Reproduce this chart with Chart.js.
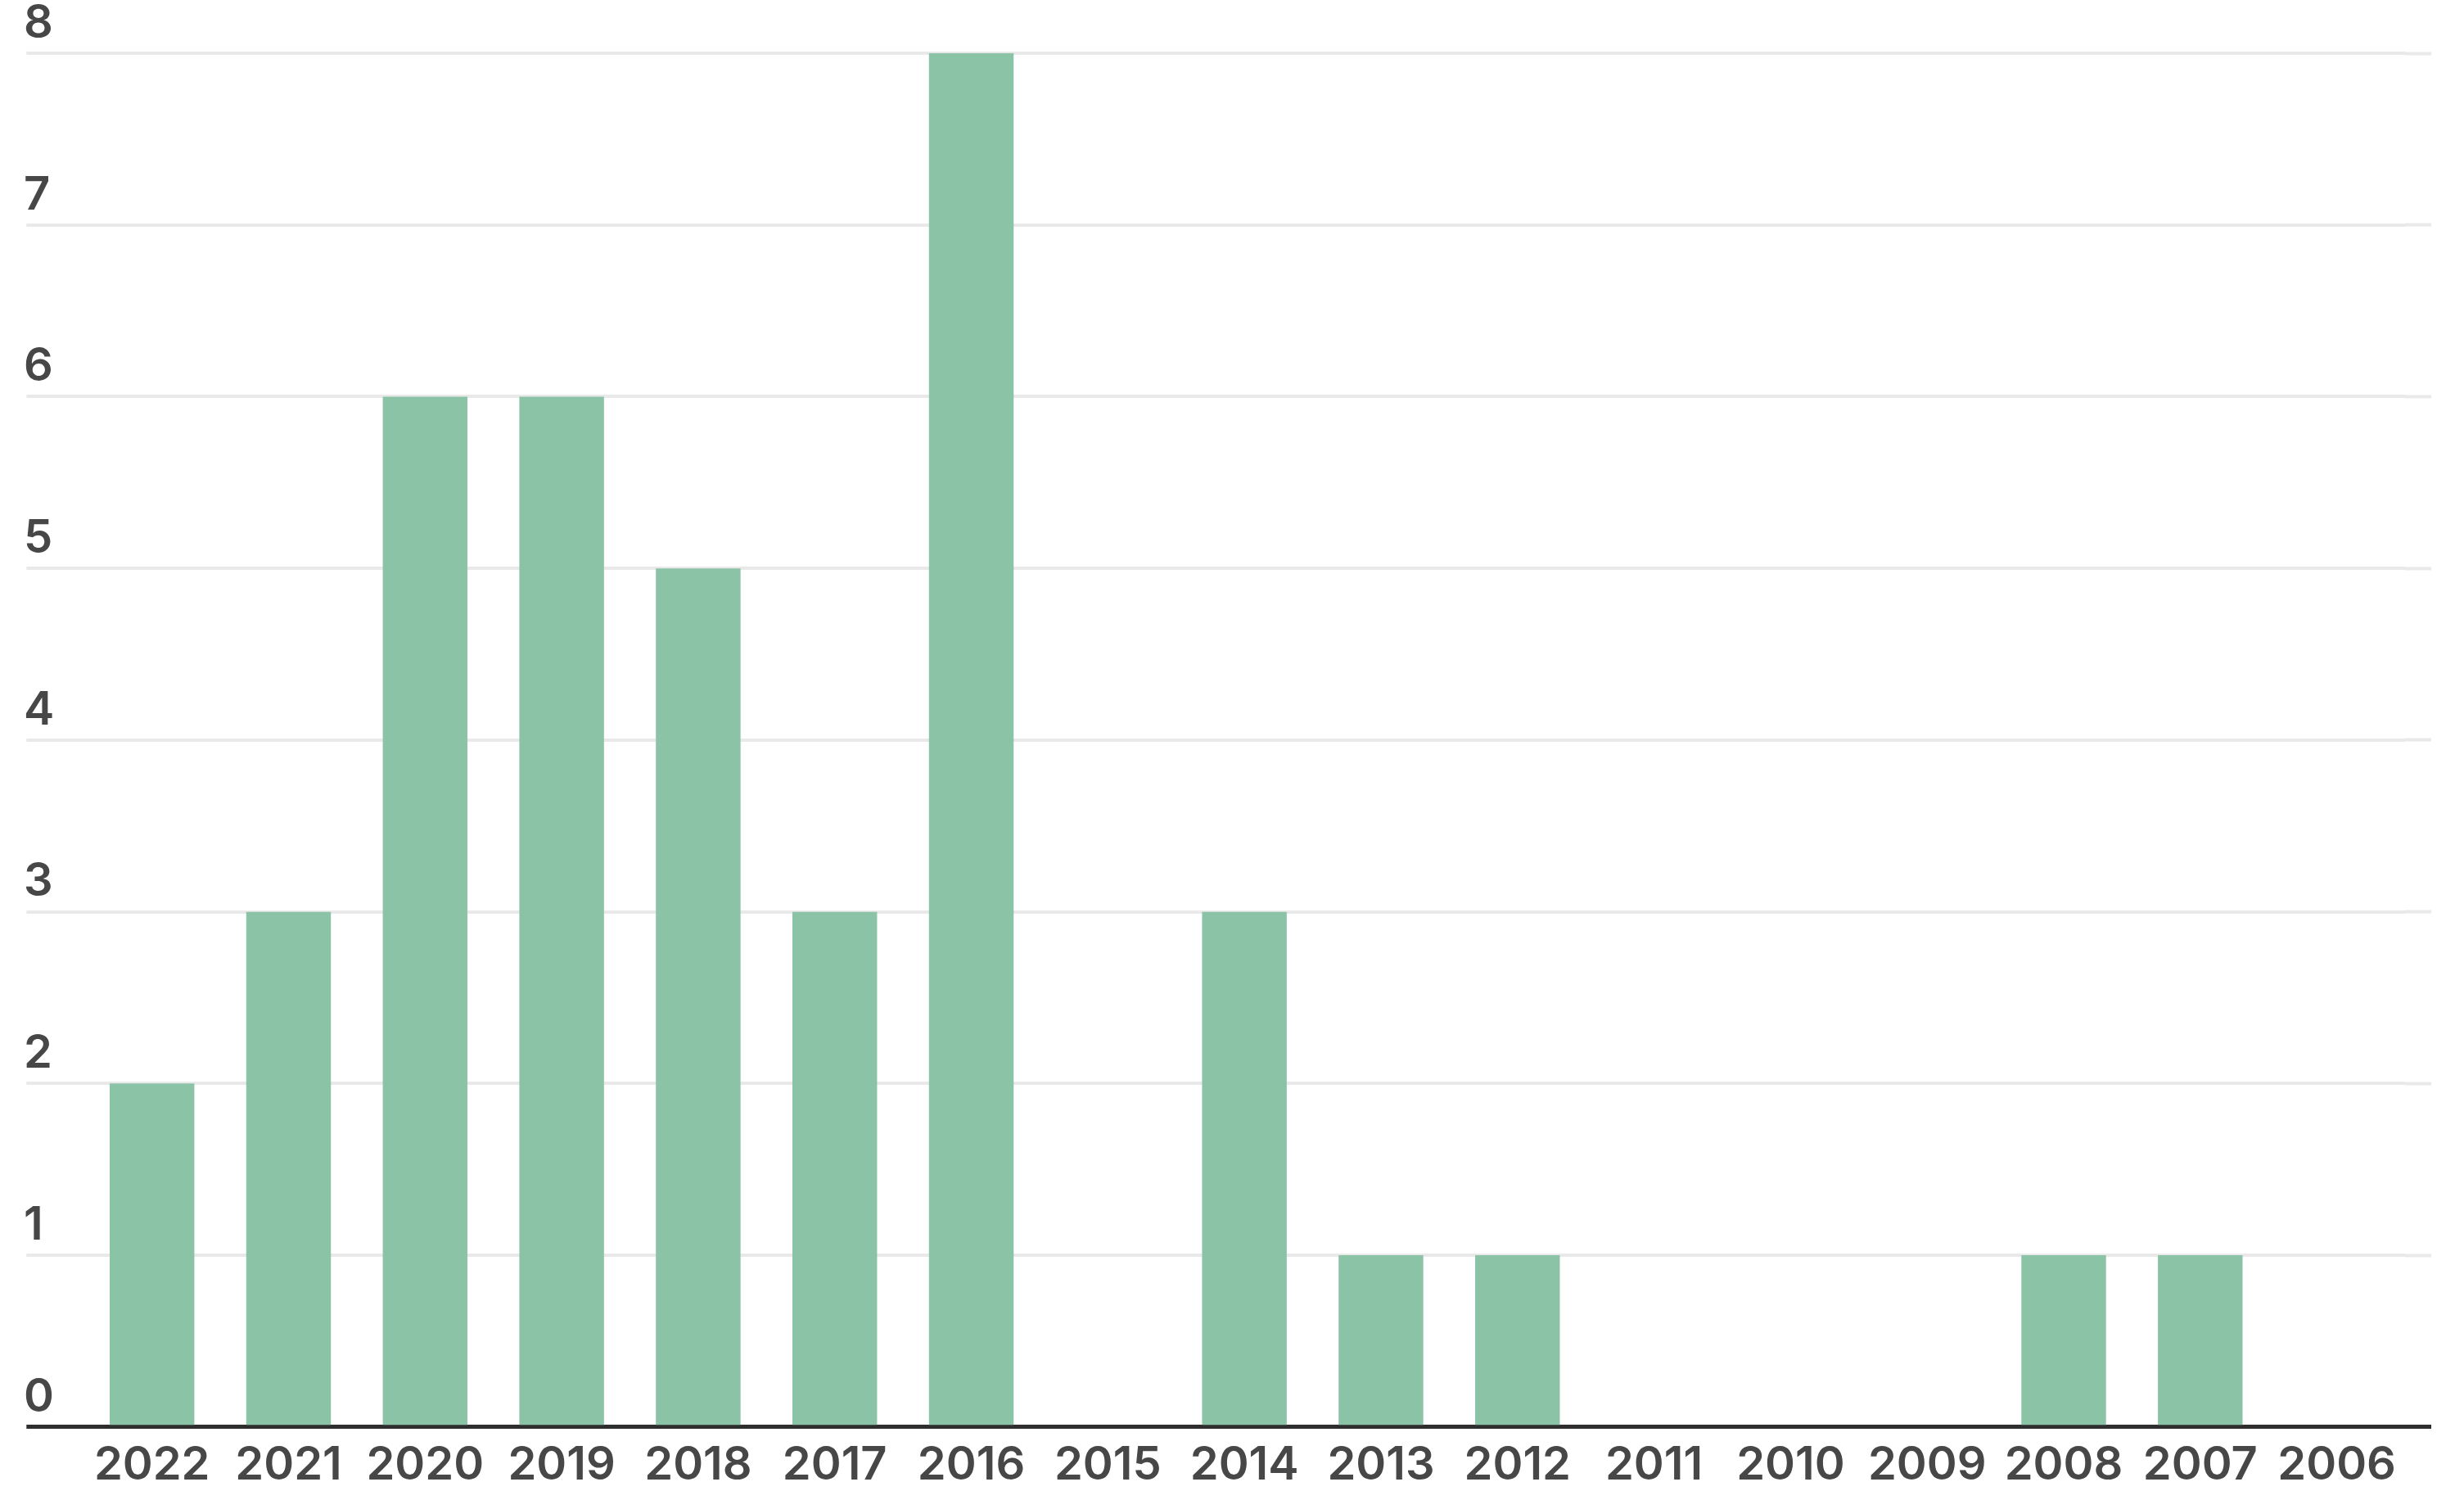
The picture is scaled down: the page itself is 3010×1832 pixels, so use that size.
<!DOCTYPE html>
<html>
<head>
<meta charset="utf-8">
<script src="https://cdn.jsdelivr.net/npm/chart.js@4/dist/chart.umd.min.js"></script>
<style>
    html, body { margin: 0; padding: 0; background: #fff; }
    canvas { display: block; }
</style>
</head>
<body>
<canvas id="yearChart" width="3010" height="1832"></canvas>
<script>
const years = ['2022', '2021', '2020', '2019', '2018', '2017', '2016', '2015', '2014',
    '2013', '2012', '2011', '2010', '2009', '2008', '2007', '2006'];
const counts = [2, 3, 6, 6, 5, 3, 8, 0, 3, 1, 1, 0, 0, 0, 1, 1, 0];
const yMin = 0;
const yMax = 8;

const barColor = '#8bc3a7';
const gridColor = '#e9e9e9';
const baseColor = '#2e2e2e';
const textColor = '#474747';
const labelFont = { family: 'Inter', size: 56, weight: '600' };

// zero line is the dark baseline, the rest are light grid lines
const lineColor = (ctx) => ctx.tick && ctx.tick.value === 0 ? baseColor : gridColor;
const lineWidth = (ctx) => ctx.tick && ctx.tick.value === 0 ? 5 : 4;

const ctx = document.getElementById('yearChart');
new Chart(ctx, {
    type: 'bar',
    data: {
        labels: years,
        datasets: [{
            label: 'Count',
            data: counts,
            backgroundColor: barColor,
            borderWidth: 0,
            categoryPercentage: 1,
            barPercentage: 0.62
        }]
    },
    options: {
        responsive: false,
        animation: false,
        devicePixelRatio: 1,
        layout: {
            padding: { left: 29, right: 40, top: 65, bottom: -6 }
        },
        plugins: {
            legend: { display: false },
            tooltip: { enabled: false }
        },
        scales: {
            x: {
                grid: { display: false, drawTicks: false },
                border: { display: false },
                ticks: {
                    color: textColor,
                    font: labelFont,
                    padding: 14,
                    maxRotation: 0,
                    autoSkip: false
                }
            },
            y: {
                position: 'left',
                min: yMin,
                max: yMax,
                border: { display: false },
                grid: {
                    color: lineColor,
                    lineWidth: lineWidth,
                    tickColor: lineColor,
                    tickWidth: lineWidth,
                    tickLength: 70,
                    drawTicks: true
                },
                ticks: {
                    stepSize: 1,
                    // labels sit left-aligned above their grid line, the
                    // negative padding cancels the label width so the axis stays 70px
                    crossAlign: 'far',
                    padding: -17,
                    labelOffset: -36,
                    color: textColor,
                    font: labelFont
                }
            },
            yRight: {
                position: 'right',
                min: yMin,
                max: yMax,
                border: { display: false },
                grid: {
                    drawOnChartArea: false,
                    tickColor: lineColor,
                    tickWidth: lineWidth,
                    tickLength: 32
                },
                ticks: { stepSize: 1, display: false }
            }
        }
    }
});
</script>
</body>
</html>
